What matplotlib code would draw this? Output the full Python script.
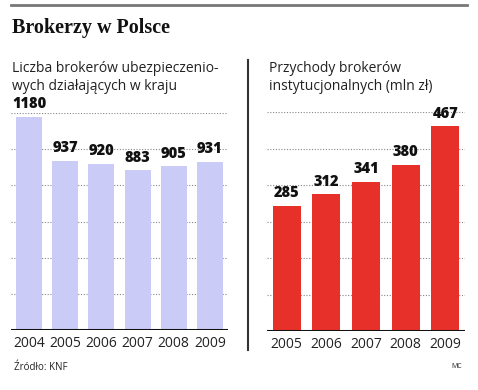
import numpy as np
import matplotlib
matplotlib.use('Agg')
import matplotlib.pyplot as plt
from matplotlib.lines import Line2D

# Dane
lata_lewe = ['2004', '2005', '2006', '2007', '2008', '2009']
liczba_brokerow = [1180, 937, 920, 883, 905, 931]

lata_prawe = ['2005', '2006', '2007', '2008', '2009']
przychody = [285, 312, 341, 380, 467]

W, H = 478, 390
fig = plt.figure(figsize=(W / 100, H / 100), dpi=100)


def fx(px):
    return px / W


def fy(py):
    return 1 - py / H


SANS = 'Open Sans'
kolor_lewy = '#cbcbf8'
kolor_prawy = '#e8302a'


def rysuj_panel(x0, x1, y_top, y_base, lata, wartosci, ymax, kolor, szer):
    ax = fig.add_axes([fx(x0), fy(y_base), fx(x1) - fx(x0), (y_base - y_top) / H])
    n = len(wartosci)
    x = np.arange(n)
    # linie siatki kropkowane
    for v in np.linspace(0, ymax, 7)[1:]:
        ax.axhline(v, color='#888888', lw=0.8, ls=(0, (1, 1.5)), zorder=1)
    ax.bar(x, wartosci, width=szer, color=kolor, zorder=2)
    ax.axhline(0, color='#111111', lw=2.2, zorder=3)
    for xi, v in zip(x, wartosci):
        ax.text(xi, v + ymax * 0.022, str(v), ha='center', va='bottom',
                fontsize=10.5, fontweight='heavy', family=SANS, color='#111111',
                clip_on=False)
    ax.set_xlim(-0.5, n - 0.5)
    ax.set_ylim(0, ymax)
    ax.set_xticks(x)
    ax.set_xticklabels(lata, fontsize=10, family=SANS, color='#222222')
    ax.tick_params(axis='x', length=0, pad=4)
    ax.set_yticks([])
    for s in ax.spines.values():
        s.set_visible(False)
    return ax


rysuj_panel(11, 228, 113, 330, lata_lewe, liczba_brokerow, 1200, kolor_lewy, 0.72)
rysuj_panel(267, 465, 112, 331, lata_prawe, przychody, 500, kolor_prawy, 0.71)

# Linia na górze i separator
fig.add_artist(Line2D([fx(11), fx(467)], [fy(5), fy(5)], color='#777777', lw=2))
fig.add_artist(Line2D([fx(248), fx(248)], [fy(60), fy(350)], color='#333333', lw=1.5))

# Teksty
fig.text(fx(12), fy(28), 'Brokerzy w Polsce', fontsize=14.5, fontweight='bold',
         family='Liberation Serif', va='center', ha='left', color='#111111')
fig.text(fx(12), fy(68), 'Liczba brokerów ubezpieczenio-', fontsize=10,
         family=SANS, va='center', ha='left', color='#222222')
fig.text(fx(12), fy(86), 'wych działających w kraju', fontsize=10,
         family=SANS, va='center', ha='left', color='#222222')
fig.text(fx(269), fy(69), 'Przychody brokerów', fontsize=10,
         family=SANS, va='center', ha='left', color='#222222')
fig.text(fx(269), fy(86), 'instytucjonalnych (mln zł)', fontsize=10,
         family=SANS, va='center', ha='left', color='#222222')
fig.text(fx(14), fy(367), 'Źródło: KNF', fontsize=7, family=SANS,
         va='center', ha='left', color='#222222')
fig.text(fx(462), fy(367), 'MC', fontsize=5, family=SANS,
         va='center', ha='right', color='#222222')

fig.savefig('out.png', dpi=100)
